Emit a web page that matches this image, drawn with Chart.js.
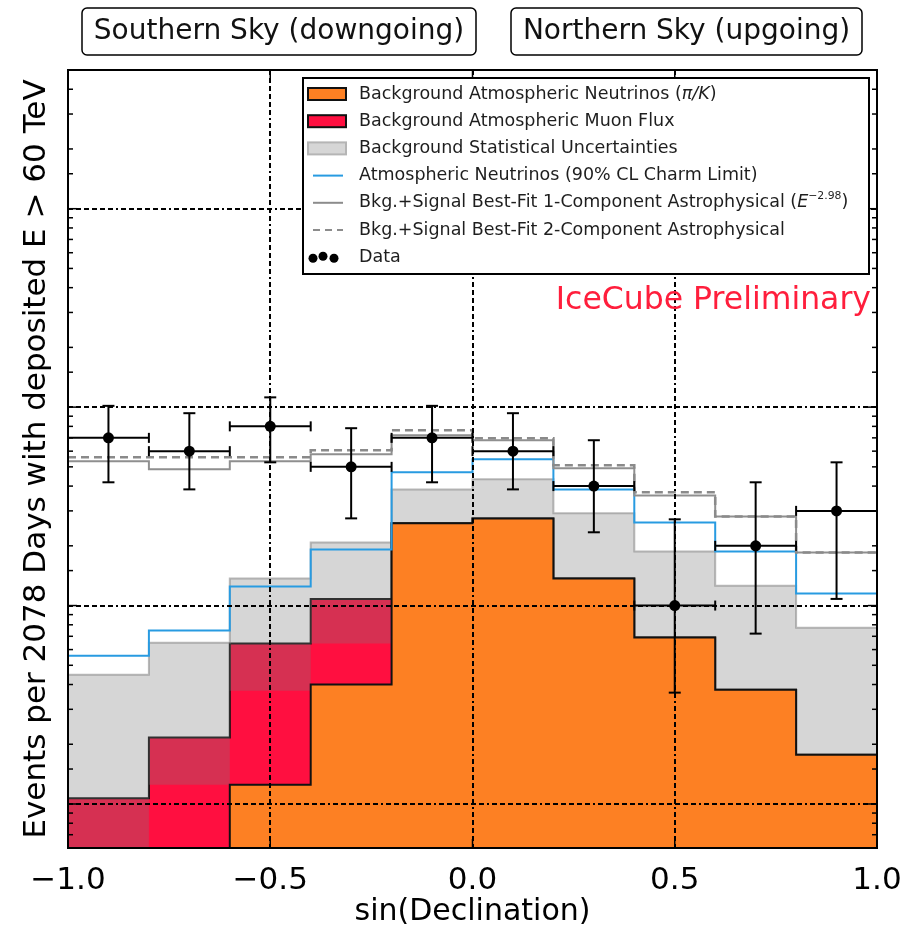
<!DOCTYPE html>
<html>
<head>
<meta charset="utf-8">
<script src="https://cdn.jsdelivr.net/npm/chart.js@4.4.1/dist/chart.umd.min.js"></script>
<style>
  html, body { margin: 0; padding: 0; background: #fff; }
</style>
</head>
<body>
<canvas id="myChart" width="908" height="925"></canvas>
<script>
// bin edges in sin(declination)
var binEdges = [-1.0, -0.8, -0.6, -0.4, -0.2, 0.0, 0.2, 0.4, 0.6, 0.8, 1.0];
// conventional atmospheric neutrinos (pi/K); 0.001 = below the axis
var convNu = [0.001, 0.001, 0.125, 0.40, 2.60, 2.75, 1.37, 0.69, 0.376, 0.177];
// total background = conventional + atmospheric muons
var bkgTotal = [0.107, 0.216, 0.643, 1.08, 2.60, 2.75, 1.37, 0.69, 0.376, 0.177];
// statistical uncertainty band of the background
var bandLow = [0.03, 0.125, 0.372, 0.643, 2.0, 2.1, 1.0, 0.5, 0.28, 0.13];
var bandHigh = [0.448, 0.650, 1.369, 2.08, 3.85, 4.33, 2.92, 1.87, 1.26, 0.774];
// atmospheric neutrinos with 90% CL charm limit
var charmLimit = [0.559, 0.748, 1.247, 1.918, 4.69, 5.46, 3.85, 2.62, 1.87, 1.15];
// bkg + signal best fits
var fit1Comp = [5.34, 4.86, 5.34, 5.79, 7.22, 6.81, 4.92, 3.59, 2.81, 1.85];
var fit2Comp = [5.59, 5.59, 5.59, 6.06, 7.65, 6.97, 5.09, 3.72, 2.81, 1.85];
// observed events
var dataCenters = [-0.9, -0.7, -0.5, -0.3, -0.1, 0.1, 0.3, 0.5, 0.7, 0.9];
var dataCounts = [7, 6, 8, 5, 7, 6, 4, 1, 2, 3];
var dataLow = [4.18, 3.85, 5.27, 2.75, 4.18, 3.85, 2.34, 0.364, 0.722, 1.08];
var dataHigh = [10.15, 9.32, 11.2, 7.83, 10.15, 9.32, 6.81, 2.72, 4.18, 5.27];
var xTicks = [-1.0, -0.5, 0.0, 0.5, 1.0];

var FONT = "'DejaVu Sans', sans-serif";
var gridDash = [5, 3, 5, 3, 5, 3, 5, 3, 5, 3, 5, 3, 2, 3];

function stepPoints(vals) {
  var pts = vals.map(function (v, i) { return { x: binEdges[i], y: v }; });
  pts.push({ x: binEdges[binEdges.length - 1], y: vals[vals.length - 1] });
  return pts;
}

function isDecade(v) {
  if (!v) return false;
  var l = Math.log10(v);
  return Math.abs(l - Math.round(l)) < 1e-6;
}

function line(ctx, x0, y0, x1, y1) {
  ctx.beginPath();
  ctx.moveTo(x0, y0);
  ctx.lineTo(x1, y1);
  ctx.stroke();
}

// draws a run of text pieces (plain / italic / superscript) starting at x
function drawPieces(ctx, pieces, x, y, size) {
  pieces.forEach(function (p) {
    var s = p.sup ? size * 0.62 : size;
    ctx.font = (p.italic ? "italic " : "") + s + "px " + FONT;
    ctx.fillText(p.t, x, p.sup ? y - size * 0.4 : y);
    x += ctx.measureText(p.t).width;
  });
}

var legendRows = [
  { kind: "box", fill: "#fd8023", stroke: "#111", pieces: [{ t: "Background Atmospheric Neutrinos (" }, { t: "π/K", italic: true }, { t: ")" }] },
  { kind: "box", fill: "#ff0f40", stroke: "#111", pieces: [{ t: "Background Atmospheric Muon Flux" }] },
  { kind: "box", fill: "#d6d6d6", stroke: "#b5b5b5", pieces: [{ t: "Background Statistical Uncertainties" }] },
  { kind: "line", color: "rgb(40,155,225)", width: 2, pieces: [{ t: "Atmospheric Neutrinos (90% CL Charm Limit)" }] },
  { kind: "line", color: "#8c8c8c", width: 2, pieces: [{ t: "Bkg.+Signal Best-Fit 1-Component Astrophysical (" }, { t: "E", italic: true }, { t: "−2.98", sup: true }, { t: ")" }] },
  { kind: "line", color: "#8c8c8c", width: 2, dash: [7, 5], pieces: [{ t: "Bkg.+Signal Best-Fit 2-Component Astrophysical" }] },
  { kind: "dots", pieces: [{ t: "Data" }] }
];

var overlay = {
  id: "overlay",
  afterDraw: function (chart) {
    var ctx = chart.ctx, a = chart.chartArea, x = chart.scales.x, y = chart.scales.y;
    ctx.save();

    // data error bars
    ctx.strokeStyle = "#000";
    ctx.lineWidth = 2;
    dataCounts.forEach(function (n, i) {
      var px = x.getPixelForValue(dataCenters[i]);
      var py = y.getPixelForValue(n);
      var xl = x.getPixelForValue(dataCenters[i] - 0.1);
      var xr = x.getPixelForValue(dataCenters[i] + 0.1);
      var yl = y.getPixelForValue(dataLow[i]);
      var yh = y.getPixelForValue(dataHigh[i]);
      line(ctx, xl, py, xr, py);
      line(ctx, px, yl, px, yh);
      line(ctx, xl, py - 5, xl, py + 5);
      line(ctx, xr, py - 5, xr, py + 5);
      line(ctx, px - 6, yl, px + 6, yl);
      line(ctx, px - 6, yh, px + 6, yh);
      ctx.beginPath();
      ctx.arc(px, py, 5.5, 0, Math.PI * 2);
      ctx.fillStyle = "#000";
      ctx.fill();
    });

    // frame and inward ticks
    ctx.lineWidth = 2;
    ctx.strokeRect(a.left, a.top, a.right - a.left, a.bottom - a.top);
    ctx.lineWidth = 1.5;
    y.ticks.forEach(function (t) {
      var py = y.getPixelForValue(t.value);
      if (py < a.top + 1 || py > a.bottom - 1) return;
      var len = isDecade(t.value) ? 9 : 5;
      line(ctx, a.left, py, a.left + len, py);
      line(ctx, a.right, py, a.right - len, py);
    });
    xTicks.forEach(function (v) {
      var px = x.getPixelForValue(v);
      line(ctx, px, a.bottom, px, a.bottom - 9);
      line(ctx, px, a.top, px, a.top + 9);
    });

    // legend
    var lx = 303, ly = 78, lw = 566, lh = 196;
    ctx.fillStyle = "#fff";
    ctx.fillRect(lx, ly, lw, lh);
    ctx.lineWidth = 2;
    ctx.strokeStyle = "#000";
    ctx.strokeRect(lx, ly, lw, lh);
    ctx.textBaseline = "middle";
    ctx.textAlign = "left";
    legendRows.forEach(function (r, i) {
      var cy = 94 + i * 27.2;
      ctx.setLineDash([]);
      if (r.kind === "box") {
        ctx.fillStyle = r.fill;
        ctx.fillRect(308, cy - 6, 38, 12);
        ctx.strokeStyle = r.stroke;
        ctx.lineWidth = 2;
        ctx.strokeRect(308, cy - 6, 38, 12);
      } else if (r.kind === "line") {
        ctx.strokeStyle = r.color;
        ctx.lineWidth = r.width;
        if (r.dash) ctx.setLineDash(r.dash);
        line(ctx, 313, cy, 343, cy);
        ctx.setLineDash([]);
      } else {
        ctx.fillStyle = "#000";
        [[313, 1], [323, -1], [334, 1]].forEach(function (d) {
          ctx.beginPath();
          ctx.arc(d[0], cy + d[1], 4.5, 0, Math.PI * 2);
          ctx.fill();
        });
      }
      ctx.fillStyle = "#1e1e1e";
      drawPieces(ctx, r.pieces, 359, cy, 17.5);
    });

    // sky region labels
    ctx.lineWidth = 1.5;
    ctx.strokeStyle = "#000";
    [["Southern Sky (downgoing)", 82, 394], ["Northern Sky (upgoing)", 511, 351]].forEach(function (b) {
      ctx.fillStyle = "#fff";
      ctx.beginPath();
      ctx.roundRect(b[1], 8, b[2], 47, 5);
      ctx.fill();
      ctx.stroke();
      ctx.fillStyle = "#111";
      ctx.font = "28px " + FONT;
      ctx.textAlign = "center";
      ctx.fillText(b[0], b[1] + b[2] / 2, 32);
    });

    // preliminary mark
    ctx.fillStyle = "#ff1e3c";
    ctx.font = "31.5px " + FONT;
    ctx.textAlign = "right";
    ctx.fillText("IceCube Preliminary", 871, 301);

    ctx.restore();
  }
};

var ctx = document.getElementById("myChart").getContext("2d");
var chart = new Chart(ctx, {
  type: "line",
  data: {
    datasets: [
      {
        label: "Bkg.+Signal Best-Fit 2-Component Astrophysical",
        data: stepPoints(fit2Comp),
        stepped: true,
        borderColor: "#8a8a8a",
        borderWidth: 2.5,
        borderDash: [8, 5],
        pointRadius: 0,
        fill: false,
        order: 1
      },
      {
        label: "Bkg.+Signal Best-Fit 1-Component Astrophysical",
        data: stepPoints(fit1Comp),
        stepped: true,
        borderColor: "#8f8f8f",
        borderWidth: 2,
        pointRadius: 0,
        fill: false,
        order: 2
      },
      {
        label: "Atmospheric Neutrinos (90% CL Charm Limit)",
        data: stepPoints(charmLimit),
        stepped: true,
        borderColor: "rgb(40,155,225)",
        borderWidth: 2,
        pointRadius: 0,
        fill: false,
        order: 3
      },
      {
        label: "Background Atmospheric Neutrinos",
        data: stepPoints(convNu),
        stepped: true,
        borderColor: "#111",
        borderWidth: 2,
        backgroundColor: "#fd8023",
        pointRadius: 0,
        fill: "start",
        order: 4
      },
      {
        label: "band low",
        data: stepPoints(bandLow),
        stepped: true,
        borderWidth: 0,
        borderColor: "rgba(0,0,0,0)",
        pointRadius: 0,
        fill: false,
        order: 5
      },
      {
        label: "Background Statistical Uncertainties",
        data: stepPoints(bandHigh),
        stepped: true,
        borderColor: "rgba(130,130,130,0.55)",
        borderWidth: 2,
        backgroundColor: "rgba(122,122,122,0.31)",
        pointRadius: 0,
        fill: "-1",
        order: 6
      },
      {
        label: "Background Atmospheric Muon Flux",
        data: stepPoints(bkgTotal),
        stepped: true,
        borderColor: "#111",
        borderWidth: 2,
        backgroundColor: "#ff0f40",
        pointRadius: 0,
        fill: "start",
        order: 7
      }
    ]
  },
  options: {
    responsive: false,
    animation: false,
    events: [],
    layout: { padding: { top: 70, right: 31, left: 0, bottom: 0 } },
    plugins: {
      legend: { display: false },
      tooltip: { enabled: false }
    },
    scales: {
      x: {
        type: "linear",
        min: -1,
        max: 1,
        afterBuildTicks: function (s) { s.ticks = xTicks.map(function (v) { return { value: v }; }); },
        ticks: {
          autoSkip: false,
          maxRotation: 0,
          padding: 14,
          color: "#000",
          font: { family: FONT, size: 31 },
          callback: function (v) { return (v < 0 ? "\u2212" : "") + Math.abs(v).toFixed(1); }
        },
        grid: {
          z: 1,
          color: function (c) { return c.tick && Math.abs(c.tick.value) < 0.99 ? "#000" : "rgba(0,0,0,0)"; },
          lineWidth: 2,
          drawTicks: false
        },
        border: { display: false, dash: gridDash },
        title: {
          display: true,
          text: "sin(Declination)",
          color: "#000",
          font: { family: FONT, size: 30, lineHeight: 0.85 },
          padding: { top: 0, bottom: 0 }
        },
        afterFit: function (s) {
          s.height = 77;
          s.paddingLeft = 0;
          s.paddingRight = 0;
        }
      },
      y: {
        type: "logarithmic",
        min: 0.06,
        max: 500,
        ticks: { display: false },
        grid: {
          z: 1,
          color: function (c) { return c.tick && isDecade(c.tick.value) ? "#000" : "rgba(0,0,0,0)"; },
          lineWidth: 2,
          drawTicks: false
        },
        border: { display: false, dash: gridDash },
        title: {
          display: true,
          text: "Events per 2078 Days with deposited E > 60 TeV",
          color: "#000",
          font: { family: FONT, size: 31 },
          padding: { top: 18, bottom: 0 }
        },
        afterFit: function (s) { s.width = 68; }
      }
    }
  },
  plugins: [overlay]
});
</script>
</body>
</html>
